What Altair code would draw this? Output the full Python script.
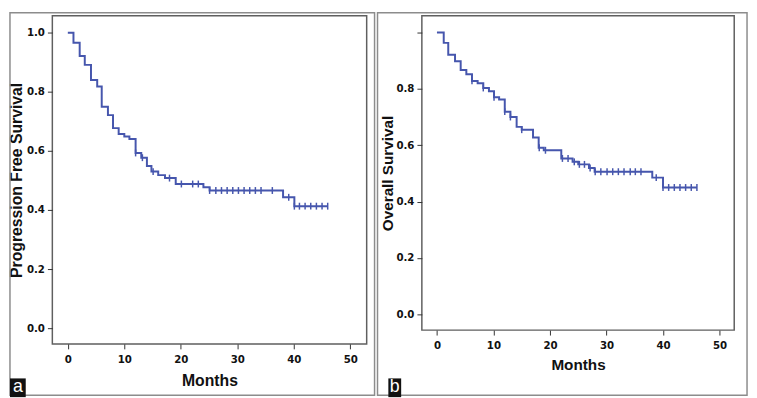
import altair as alt
import pandas as pd

# ---------------- data ----------------
# Panel a: Progression Free Survival (step times in months, survival after step)
pfs_time = [0, 1.0, 2.1, 3.0, 4.1, 5.2, 6.0, 7.1, 8.0, 9.0, 10.0, 10.9, 12.0, 13.0,
            14.0, 14.8, 16.0, 17.2, 19.1, 24.0, 25.1, 38.1, 40.1, 46.0]
pfs_surv = [1.0, 0.966, 0.921, 0.891, 0.84, 0.818, 0.749, 0.721, 0.677, 0.657, 0.649,
            0.64, 0.593, 0.577, 0.549, 0.53, 0.518, 0.508, 0.488, 0.477, 0.466, 0.443,
            0.413, 0.413]
pfs_censor = [12.0, 13.2, 15.1, 18.0, 20.1, 22.1, 23.1, 25.1, 26.2, 27.2, 28.2, 29.2,
              30.2, 31.2, 32.2, 33.2, 34.2, 36.2, 39.1, 40.1, 41.0, 42.0, 43.0, 44.0,
              45.0, 46.0]

# Panel b: Overall Survival
os_time = [0, 1.2, 2.0, 3.2, 4.2, 5.2, 6.2, 7.2, 8.2, 9.2, 10.1, 11.0, 12.0, 13.0,
           14.1, 15.0, 17.0, 18.0, 18.9, 22.0, 24.0, 25.0, 26.9, 27.9, 38.1, 40.0, 46.0]
os_surv = [1.0, 0.963, 0.921, 0.898, 0.867, 0.852, 0.828, 0.82, 0.803, 0.791, 0.77,
           0.762, 0.719, 0.70, 0.665, 0.655, 0.627, 0.591, 0.582, 0.553, 0.541, 0.532,
           0.519, 0.506, 0.485, 0.45, 0.45]
os_censor = [6.2, 8.2, 10.1, 12.0, 13.0, 15.0, 18.1, 19.2, 22.2, 23.2, 24.3, 25.2, 26.1,
             27.1, 28.0, 29.0, 30.1, 31.1, 32.1, 33.1, 34.2, 35.1, 36.1, 38.8, 40.0,
             41.0, 42.0, 43.0, 44.0, 45.0, 46.0]

x_ticks = [0, 10, 20, 30, 40, 50]
y_ticks = [0.0, 0.2, 0.4, 0.6, 0.8, 1.0]

# ---------------- styling ----------------
CURVE = "#4656ad"
TICK_FONT = "Liberation Sans Narrow, Arial Narrow, DejaVu Sans Condensed, sans-serif"
TITLE_FONT = "Liberation Sans, Arial, sans-serif"


def step_value(times, surv, t):
    val = surv[0]
    for tt, s in zip(times, surv):
        if tt <= t + 1e-9:
            val = s
    return val


def panel(times, surv, censor, ytitle, letter, W, H, xdom, ydom,
          ytitle_x, xtitle_y, hide_top_label, box, badge, title_size):
    curve = pd.DataFrame({"month": times, "surv": surv})
    cens = pd.DataFrame({"month": censor,
                         "surv": [step_value(times, surv, c) for c in censor]})
    dummy = pd.DataFrame({"d": [0]})

    label_expr = ("datum.value > 0.99 ? '' : format(datum.value, '.1f')"
                  if hide_top_label else "format(datum.value, '.1f')")

    common = dict(labelFont=TICK_FONT, labelFontSize=11.5, labelFontWeight="bold",
                  labelColor="#111111", tickColor="#333333", tickSize=5, tickWidth=1,
                  domain=False, grid=False, labelFlush=False, labelOverlap=False,
                  titleFont=TITLE_FONT, titleFontSize=title_size, titleFontWeight="bold",
                  titleColor="#111111", titleBaseline="alphabetic", titleAlign="center")

    xaxis = alt.Axis(values=x_ticks, format="d", title="Months", labelPadding=5,
                     titleX=W / 2, titleY=xtitle_y, **common)
    yaxis = alt.Axis(values=y_ticks, labelExpr=label_expr, title=ytitle,
                     labelPadding=3, titleAngle=270, titleX=ytitle_x, titleY=H / 2,
                     **common)

    xenc = alt.X("month:Q", scale=alt.Scale(domain=xdom, nice=False, zero=False),
                 axis=xaxis)
    yenc = alt.Y("surv:Q", scale=alt.Scale(domain=ydom, nice=False, zero=False),
                 axis=yaxis)

    line = alt.Chart(curve).mark_line(interpolate="step-after", color=CURVE,
                                      strokeWidth=2).encode(x=xenc, y=yenc)
    ticks = alt.Chart(cens).mark_point(shape="M0,-1L0,1", size=49, color=CURVE,
                                       strokeWidth=1.5, opacity=1,
                                       filled=False).encode(x=xenc, y=yenc)

    border = alt.Chart(dummy).mark_rect(fillOpacity=0, stroke="#8c8c8c",
                                        strokeWidth=1.5).encode(
        x=alt.value(box[0]), x2=alt.value(box[1]),
        y=alt.value(box[2]), y2=alt.value(box[3]))
    badge_rect = alt.Chart(dummy).mark_rect(color="#111111").encode(
        x=alt.value(badge[0]), x2=alt.value(badge[1]),
        y=alt.value(badge[2]), y2=alt.value(badge[3]))
    badge_text = alt.Chart(dummy).mark_text(
        color="white", font=TITLE_FONT, fontSize=18, align="center",
        baseline="alphabetic").encode(
        x=alt.value((badge[0] + badge[1]) / 2), y=alt.value(badge[3] - 5),
        text=alt.value(letter))

    return alt.layer(border, line, ticks, badge_rect, badge_text).properties(
        width=W, height=H)


WA, HA = 319, 333
WB, HB = 317, 319

left = panel(pfs_time, pfs_surv, pfs_censor, "Progression Free Survival", "a",
             WA, HA, [-2.74, 52.9], [-0.053, 1.057],
             ytitle_x=-31, xtitle_y=42.7, hide_top_label=False,
             box=(-43, 327, -3, 385), badge=(-43, -27, 368, 387), title_size=16)

right = panel(os_time, os_surv, os_censor, "Overall Survival", "b",
              WB, HB, [-2.67, 52.6], [-0.056, 1.059],
              ytitle_x=-29.3, xtitle_y=40, hide_top_label=True,
              box=(-45, 330, -3, 385), badge=(-34, -21, 368, 387), title_size=15.5)

chart = alt.hconcat(left, right, spacing=56, bounds="flush").properties(
    padding=0, background="white"
).configure_view(stroke="#5f5f5f", strokeWidth=1.5)

chart.save("out.html", embed_options={"renderer": "svg", "actions": False})
